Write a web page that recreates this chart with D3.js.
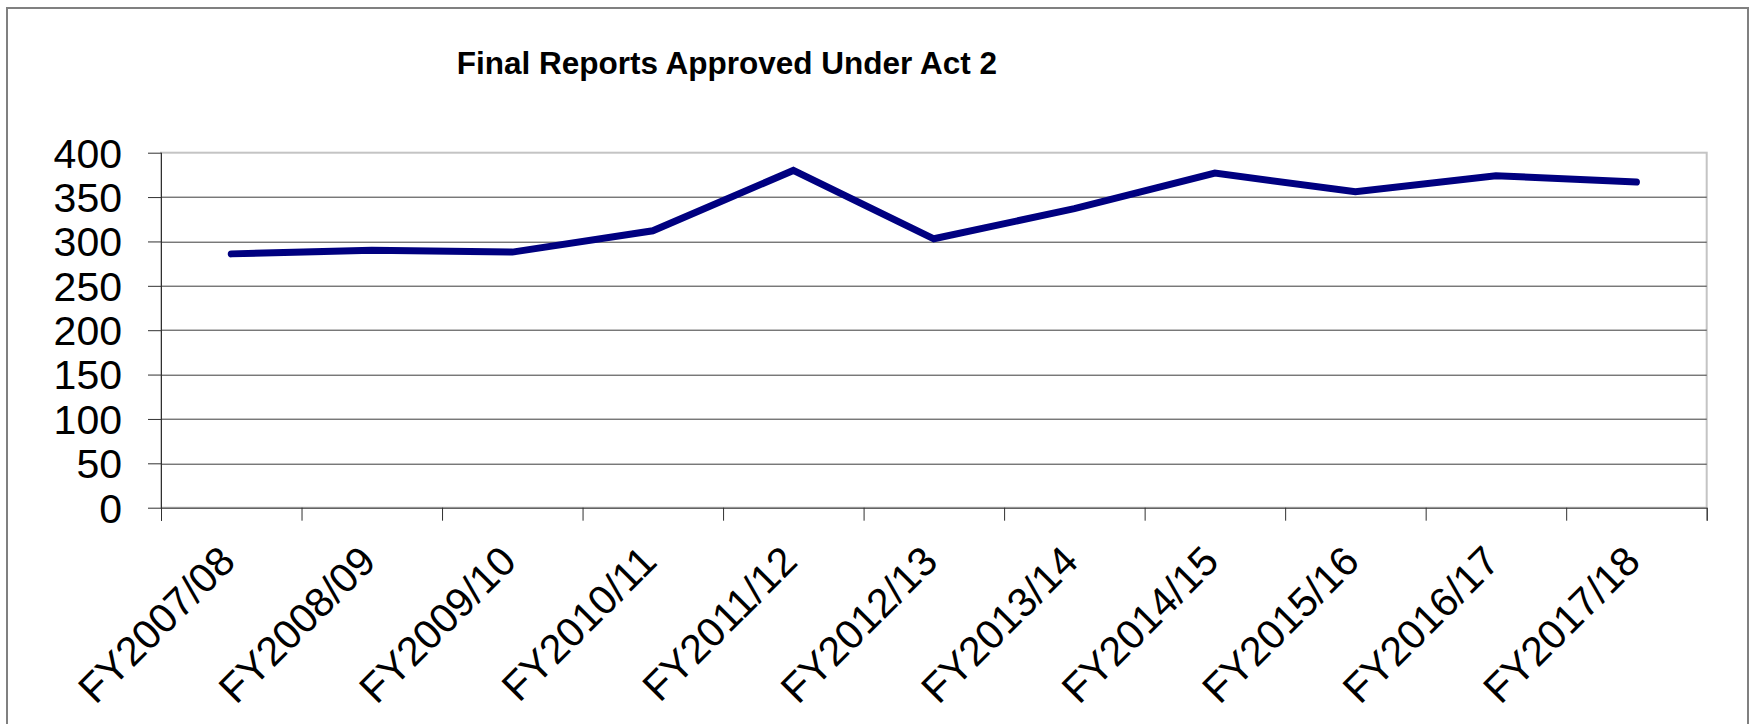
<!DOCTYPE html>
<html>
<head>
<meta charset="utf-8">
<script src="https://cdn.jsdelivr.net/npm/d3@7"></script>
<style>
  body { margin: 0; background: #fff; }
  text { font-family: "Liberation Sans", Arial, sans-serif; fill: #000; }
</style>
</head>
<body>
<div class="chart"></div>
<script>
var years = ["FY2007/08", "FY2008/09", "FY2009/10", "FY2010/11", "FY2011/12", "FY2012/13",
             "FY2013/14", "FY2014/15", "FY2015/16", "FY2016/17", "FY2017/18"];
var reports = [286, 290, 288, 312, 380, 303, 337, 377, 356, 374, 367];
var yTicks = [0, 50, 100, 150, 200, 250, 300, 350, 400];
var title = "Final Reports Approved Under Act 2";

var width = 1752, height = 724;
var margin = {top: 152.7, right: 45.3, bottom: 216.3, left: 161};
var plotW = width - margin.left - margin.right;
var plotH = height - margin.top - margin.bottom;

var svg = d3.select(".chart").append("svg")
    .attr("width", width)
    .attr("height", height);

// outer chart frame (runs off the bottom of the picture)
svg.append("rect")
    .attr("x", 7).attr("y", 8)
    .attr("width", 1741).attr("height", 760)
    .attr("fill", "none")
    .attr("stroke", "#808080")
    .attr("stroke-width", 2);

svg.append("text")
    .attr("x", 456.7)
    .attr("y", 74)
    .style("font-size", "31.5px")
    .style("font-weight", "bold")
    .text(title);

var g = svg.append("g")
    .attr("transform", "translate(" + margin.left + "," + margin.top + ")");

var x = d3.scaleBand()
    .domain(years)
    .range([0, plotW])
    .padding(0);

var xEdge = d3.scaleLinear()
    .domain([0, years.length])
    .range([0, plotW]);

var y = d3.scaleLinear()
    .domain([0, 400])
    .range([plotH, 0]);

// plot area border, light grey on top and right
g.append("rect")
    .attr("width", plotW)
    .attr("height", plotH)
    .attr("fill", "none")
    .attr("stroke", "#c4c4c4")
    .attr("stroke-width", 2);

// gridlines
g.selectAll(".grid")
    .data(yTicks.filter(function(d) { return d > 0 && d < 400; }))
  .enter().append("line")
    .attr("class", "grid")
    .attr("x1", 0).attr("x2", plotW)
    .attr("y1", function(d) { return Math.round(y(d)) + 0.5; })
    .attr("y2", function(d) { return Math.round(y(d)) + 0.5; })
    .attr("stroke", "#3c3c3c")
    .attr("stroke-width", 1);

// y axis
var yAxis = g.append("g")
    .call(d3.axisLeft(y).tickValues(yTicks).tickSize(13).tickPadding(26));
yAxis.select(".domain").remove();
yAxis.selectAll(".tick line").attr("stroke", "#303030");
yAxis.selectAll(".tick text")
    .style("font-size", "41px")
    .attr("dy", "0.35em");

g.append("line")
    .attr("x1", 0.5).attr("x2", 0.5)
    .attr("y1", 0).attr("y2", plotH + 13)
    .attr("stroke", "#303030");

// x axis with ticks between categories
var xAxis = g.append("g")
    .attr("transform", "translate(0," + plotH + ")")
    .call(d3.axisBottom(xEdge).tickValues(d3.range(years.length + 1)).tickSize(13).tickFormat(""));
xAxis.select(".domain").attr("stroke", "#303030");
xAxis.selectAll(".tick line").attr("stroke", "#303030");

g.selectAll(".xlabel")
    .data(years)
  .enter().append("text")
    .attr("class", "xlabel")
    .attr("text-anchor", "end")
    .style("font-size", "41px")
    .attr("transform", function(d) {
      return "translate(" + (x(d) + x.bandwidth() / 2 + 6) + "," + (plotH + 56) + ") rotate(-45)";
    })
    .text(function(d) { return d; });

var line = d3.line()
    .x(function(d, i) { return x(years[i]) + x.bandwidth() / 2; })
    .y(function(d) { return y(d); });

g.append("path")
    .datum(reports)
    .attr("d", line)
    .attr("fill", "none")
    .attr("stroke", "#000080")
    .attr("stroke-width", 7)
    .attr("stroke-linecap", "round")
    .attr("stroke-linejoin", "miter");
</script>
</body>
</html>
